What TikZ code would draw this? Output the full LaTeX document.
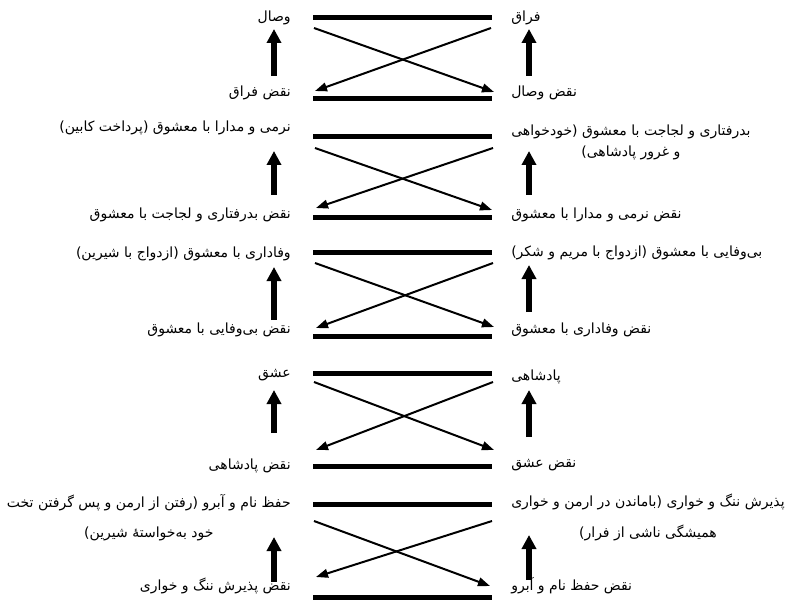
\documentclass[tikz,border=0pt]{standalone}
\usepackage{fontspec}
\usepackage{tikz}
\usetikzlibrary{arrows.meta}
\newfontfamily\farsifont[Script=Arabic]{DejaVu Sans}
\TeXXeTstate=1
\newcommand{\fa}[1]{\beginR #1\endR}

\begin{document}
\begin{tikzpicture}[x=0.75pt,y=-0.75pt,
    lbl/.style={font=\farsifont\fontsize{10.5}{16}\selectfont, inner sep=0pt, align=center},
    bar/.style={line width=3.75pt},
    swap/.style={line width=1.5pt, -{Triangle[length=9pt,width=6.5pt]}},
    up/.style={line width=4.5pt, -{Triangle[length=10.5pt,width=10.5pt]}}]
    \useasboundingbox (0,0) rectangle (803,606);

    % panel 1
    \node[lbl, anchor=east] (l1t) at (291,18) {\fa{وصال}};
    \node[lbl, anchor=east] (l1b) at (291,93) {\fa{نقض فراق}};
    \node[lbl, anchor=west] (r1t) at (511,18) {\fa{فراق}};
    \node[lbl, anchor=west] (r1b) at (511,93) {\fa{نقض وصال}};
    \draw[bar] (313,18) -- (492,18);
    \draw[bar] (313,99) -- (492,99);
    \coordinate (x1a) at (314,28); \coordinate (x1b) at (494,92);
    \coordinate (x1c) at (491,28); \coordinate (x1d) at (315,91);
    \draw[swap] (x1a) -- (x1b);
    \draw[swap] (x1c) -- (x1d);
    \coordinate (u1a) at (274,76); \coordinate (u1b) at (274,29);
    \coordinate (v1a) at (529,76); \coordinate (v1b) at (529,29);
    \draw[up] (u1a) -- (u1b);
    \draw[up] (v1a) -- (v1b);

    % panel 2
    \node[lbl, anchor=east] (l2t) at (291,128) {\fa{نرمی و مدارا با معشوق (پرداخت کابین)}};
    \node[lbl, anchor=east] (l2b) at (291,215) {\fa{نقض بدرفتاری و لجاجت با معشوق}};
    \node[lbl, anchor=west] (r2t) at (511,142.5) {\fa{بدرفتاری و لجاجت با معشوق (خودخواهی}\\\fa{و غرور پادشاهی)}};
    \node[lbl, anchor=west] (r2b) at (511,215) {\fa{نقض نرمی و مدارا با معشوق}};
    \draw[bar] (313,137) -- (492,137);
    \draw[bar] (313,217) -- (492,217);
    \coordinate (x2a) at (315,148); \coordinate (x2b) at (492,210);
    \coordinate (x2c) at (493,148); \coordinate (x2d) at (316,208);
    \draw[swap] (x2a) -- (x2b);
    \draw[swap] (x2c) -- (x2d);
    \coordinate (u2a) at (274,195); \coordinate (u2b) at (274,151);
    \coordinate (v2a) at (529,195); \coordinate (v2b) at (529,151);
    \draw[up] (u2a) -- (u2b);
    \draw[up] (v2a) -- (v2b);

    % panel 3
    \node[lbl, anchor=east] (l3t) at (291,254) {\fa{وفاداری با معشوق (ازدواج با شیرین)}};
    \node[lbl, anchor=east] (l3b) at (291,330) {\fa{نقض بی‌وفایی با معشوق}};
    \node[lbl, anchor=west] (r3t) at (511,253) {\fa{بی‌وفایی با معشوق (ازدواج با مریم و شکر)}};
    \node[lbl, anchor=west] (r3b) at (511,330) {\fa{نقض وفاداری با معشوق}};
    \draw[bar] (313,252) -- (492,252);
    \draw[bar] (313,336) -- (492,336);
    \coordinate (x3a) at (315,263); \coordinate (x3b) at (494,327);
    \coordinate (x3c) at (493,263); \coordinate (x3d) at (316,328);
    \draw[swap] (x3a) -- (x3b);
    \draw[swap] (x3c) -- (x3d);
    \coordinate (u3a) at (274,320); \coordinate (u3b) at (274,267);
    \coordinate (v3a) at (529,312); \coordinate (v3b) at (529,265);
    \draw[up] (u3a) -- (u3b);
    \draw[up] (v3a) -- (v3b);

    % panel 4
    \node[lbl, anchor=east] (l4t) at (291,375) {\fa{عشق}};
    \node[lbl, anchor=east] (l4b) at (291,466) {\fa{نقض پادشاهی}};
    \node[lbl, anchor=west] (r4t) at (511,377) {\fa{پادشاهی}};
    \node[lbl, anchor=west] (r4b) at (511,465) {\fa{نقض عشق}};
    \draw[bar] (313,373) -- (492,373);
    \draw[bar] (313,466) -- (492,466);
    \coordinate (x4a) at (314,382); \coordinate (x4b) at (494,450);
    \coordinate (x4c) at (493,382); \coordinate (x4d) at (316,450);
    \draw[swap] (x4a) -- (x4b);
    \draw[swap] (x4c) -- (x4d);
    \coordinate (u4a) at (274,433); \coordinate (u4b) at (274,390);
    \coordinate (v4a) at (529,437); \coordinate (v4b) at (529,390);
    \draw[up] (u4a) -- (u4b);
    \draw[up] (v4a) -- (v4b);

    % panel 5
    \node[lbl, anchor=east] (l5t) at (291,517.5) {\fa{حفظ نام و آبرو (رفتن از ارمن و پس گرفتن تخت}\\[7pt]\fa{خود به‌خواستهٔ شیرین)}};
    \node[lbl, anchor=east] (l5b) at (291,586) {\fa{نقض پذیرش ننگ و خواری}};
    \node[lbl, anchor=west] (r5t) at (511,517.5) {\fa{پذیرش ننگ و خواری (باماندن در ارمن و خواری}\\[7pt]\fa{همیشگی ناشی از فرار)}};
    \node[lbl, anchor=west] (r5b) at (511,586) {\fa{نقض حفظ نام و آبرو}};
    \draw[bar] (313,504) -- (492,504);
    \draw[bar] (313,597) -- (492,597);
    \coordinate (x5a) at (314,521); \coordinate (x5b) at (490,586);
    \coordinate (x5c) at (492,521); \coordinate (x5d) at (316,577);
    \draw[swap] (x5a) -- (x5b);
    \draw[swap] (x5c) -- (x5d);
    \coordinate (u5a) at (274,582); \coordinate (u5b) at (274,537);
    \coordinate (v5a) at (529,580); \coordinate (v5b) at (529,535);
    \draw[up] (u5a) -- (u5b);
    \draw[up] (v5a) -- (v5b);
\end{tikzpicture}
\end{document}
